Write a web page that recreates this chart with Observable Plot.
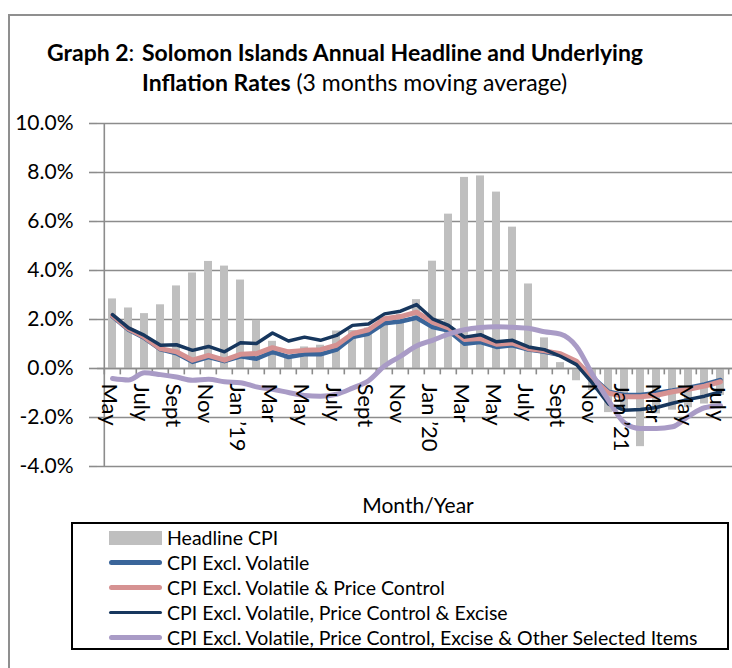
<!DOCTYPE html>
<html>
<head>
<meta charset="utf-8">
<script src="https://cdn.jsdelivr.net/npm/d3@7"></script>
<script src="https://cdn.jsdelivr.net/npm/@observablehq/plot@0.6"></script>
<style>
  html, body { margin: 0; padding: 0; background: #fff; }
  body { width: 732px; height: 668px; position: relative; overflow: hidden; font-family: Lato, "Open Sans", sans-serif; color: #000; }
  #frame { position: absolute; left: 8px; top: 14px; width: 900px; height: 900px; border-left: 2px solid #8f8f8f; border-top: 2px solid #8f8f8f; }
  #title { position: absolute; left: 47px; top: 37px; display: flex; font-size: 23px; line-height: 30px; }
  #title .pre { white-space: pre; width: 95px; flex: none; }
  #chart { position: absolute; left: 0; top: 0; }
  #xlabel { position: absolute; left: 318px; width: 200px; top: 492px; text-align: center; font-size: 21px; }
  #legend { position: absolute; left: 71px; top: 522px; width: 654px; height: 124px; border: 2px solid #000; }
  .row { position: absolute; left: 0; height: 25px; display: flex; align-items: center; font-size: 19.5px; white-space: nowrap; }
  .sw { width: 53px; margin-left: 36px; margin-right: 5px; display: flex; align-items: center; justify-content: center; }
</style>
</head>
<body>
<div id="frame"></div>
<div id="title"><span class="pre"><b>Graph 2</b>:</span><span><b>Solomon Islands Annual Headline and Underlying</b><br><b>Inflation Rates</b> (3 months moving average)</span></div>
<div id="chart"></div>
<div id="xlabel">Month/Year</div>
<div id="legend"></div>
<script>
const months = ["2018-05","2018-06","2018-07","2018-08","2018-09","2018-10","2018-11","2018-12",
  "2019-01","2019-02","2019-03","2019-04","2019-05","2019-06","2019-07","2019-08","2019-09","2019-10","2019-11","2019-12",
  "2020-01","2020-02","2020-03","2020-04","2020-05","2020-06","2020-07","2020-08","2020-09","2020-10","2020-11","2020-12",
  "2021-01","2021-02","2021-03","2021-04","2021-05","2021-06","2021-07"];
const monthLabels = ["May","","July","","Sept","","Nov","",
  "Jan ’19","","Mar","","May","","July","","Sept","","Nov","",
  "Jan ’20","","Mar","","May","","July","","Sept","","Nov","",
  "Jan ’21","","Mar","","May","","July"];
const headlineCPI = [2.84,2.47,2.24,2.6,3.37,3.9,4.37,4.18,
  3.61,1.97,1.11,0.41,0.88,0.95,1.53,1.55,1.65,2.0,2.2,2.81,
  4.38,6.3,7.8,7.86,7.2,5.77,3.45,1.25,0.24,-0.5,-0.9,-1.8,
  -1.76,-3.19,-1.85,-1.7,-1.6,-1.45,-1.1];
const exclVolatile = [2.12,1.58,1.24,0.78,0.62,0.27,0.47,0.3,
  0.5,0.4,0.68,0.47,0.58,0.58,0.77,1.28,1.42,1.85,1.92,2.07,
  1.69,1.55,1.01,1.08,0.88,0.95,0.77,0.68,0.55,0.25,-0.35,-0.95,
  -1.08,-1.08,-1.0,-0.9,-0.78,-0.65,-0.47];
const exclVolatilePriceControl = [2.16,1.62,1.28,0.81,0.68,0.34,0.54,0.34,
  0.58,0.61,0.85,0.68,0.74,0.77,0.95,1.42,1.58,2.03,2.12,2.3,
  1.89,1.66,1.18,1.22,0.99,1.04,0.81,0.72,0.6,0.3,-0.4,-1.0,
  -1.15,-1.15,-1.09,-0.95,-0.85,-0.72,-0.54];
const exclVolatilePriceControlExcise = [2.2,1.66,1.35,0.95,0.97,0.74,0.9,0.68,
  1.05,1.02,1.45,1.12,1.28,1.15,1.35,1.76,1.82,2.23,2.34,2.61,
  2.03,1.76,1.28,1.38,1.09,1.15,0.88,0.77,0.5,0.16,-0.6,-1.45,
  -1.7,-1.67,-1.59,-1.42,-1.26,-1.13,-0.95];
const exclVolatilePriceControlExciseOther = [-0.41,-0.47,-0.17,-0.25,-0.35,-0.48,-0.44,-0.54,
  -0.58,-0.75,-0.85,-0.98,-1.1,-1.13,-1.05,-0.8,-0.5,0.1,0.5,0.92,
  1.15,1.4,1.58,1.67,1.7,1.68,1.64,1.5,1.4,0.9,-0.25,-1.3,
  -2.22,-2.45,-2.45,-2.38,-1.95,-1.6,-1.52];
const yTicks = [-4,-2,0,2,4,6,8,10];
const seriesNames = ["Headline CPI","CPI Excl. Volatile","CPI Excl. Volatile & Price Control",
  "CPI Excl. Volatile, Price Control & Excise","CPI Excl. Volatile, Price Control, Excise & Other Selected Items"];
const seriesColors = ["#bfbfbf","#3a659a","#d69292","#17375e","#a99bc6"];
const seriesWidths = [0,4.5,5,3.5,5];

const rows = months.map((m, i) => ({
  m, label: monthLabels[i], headline: headlineCPI[i], vol: exclVolatile[i],
  pc: exclVolatilePriceControl[i], exc: exclVolatilePriceControlExcise[i], oth: exclVolatilePriceControlExciseOther[i]
}));

const x0 = 97, x1 = 736;
const step = (x1 - x0) / months.length;
const grid = "#8c8c8c";

const chart = Plot.plot({
  width: 732, height: 520,
  marginLeft: x0, marginRight: 0, marginTop: 123, marginBottom: 54,
  style: {fontFamily: "Lato, 'Open Sans', sans-serif", background: "transparent", color: "#000"},
  x: {domain: months, range: [x0, x1], paddingInner: 0.49, paddingOuter: 0.245, axis: null},
  y: {domain: [-4, 10], axis: null},
  marks: [
    Plot.gridY(yTicks, {stroke: grid, strokeOpacity: 1, strokeWidth: 1.6}),
    Plot.axisY(yTicks, {tickSize: 8, tickPadding: 16, stroke: grid, strokeWidth: 1.6, fill: "#000",
      fontSize: 21, tickFormat: d => d.toFixed(1) + "%", label: null}),
    Plot.ruleX([months[0]], {y1: -4, y2: 10, dx: -step / 2, stroke: grid, strokeWidth: 1.6}),
    Plot.barY(rows, {x: "m", y: "headline", fill: seriesColors[0]}),
    Plot.ruleY([0], {stroke: grid, strokeWidth: 1.6}),
    Plot.ruleX(months, {y1: 0, y2: -0.26, dx: -step / 2, stroke: grid, strokeWidth: 1.6}),
    Plot.ruleX([months[months.length - 1]], {y1: 0, y2: -0.26, dx: step / 2, stroke: grid, strokeWidth: 1.6}),
    Plot.line(rows, {x: "m", y: "vol", stroke: seriesColors[1], strokeWidth: seriesWidths[1]}),
    Plot.line(rows, {x: "m", y: "pc", stroke: seriesColors[2], strokeWidth: seriesWidths[2]}),
    Plot.line(rows, {x: "m", y: "exc", stroke: seriesColors[3], strokeWidth: seriesWidths[3]}),
    Plot.line(rows, {x: "m", y: "oth", stroke: seriesColors[4], strokeWidth: seriesWidths[4], curve: "monotone-x"}),
    Plot.text(rows.filter(d => d.label), {x: "m", y: 0, text: "label", rotate: 90, textAnchor: "start",
      dy: 15, dx: -3, fontSize: 22, fill: "#000"})
  ]
});
document.getElementById("chart").appendChild(chart);

const legend = document.getElementById("legend");
seriesNames.forEach((name, i) => {
  const row = document.createElement("div");
  row.className = "row";
  row.style.top = (1 + i * 25) + "px";
  const sw = document.createElement("div");
  sw.className = "sw";
  const inner = document.createElement("div");
  if (i === 0) {
    inner.style.cssText = `width:53px;height:14px;background:${seriesColors[0]}`;
  } else {
    inner.style.cssText = `width:53px;height:${seriesWidths[i]}px;border-radius:3px;background:${seriesColors[i]}`;
  }
  sw.appendChild(inner);
  const t = document.createElement("span");
  t.textContent = name;
  row.appendChild(sw);
  row.appendChild(t);
  legend.appendChild(row);
});
</script>
</body>
</html>
